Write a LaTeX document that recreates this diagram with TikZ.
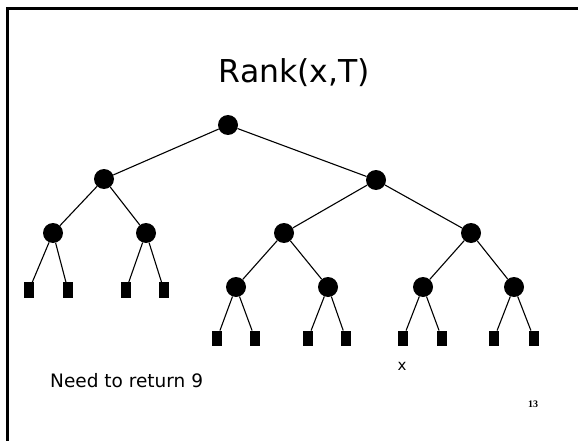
\documentclass[tikz,border=0pt]{standalone}
\usepackage{fontspec}
\setmainfont{DejaVu Sans}
\newfontfamily\numfont{Liberation Serif}
\begin{document}
\begin{tikzpicture}[x=1pt,y=-1pt,
  inode/.style={circle,fill=black,minimum size=20pt,inner sep=0pt},
  leafnode/.style={rectangle,fill=black,minimum width=10pt,minimum height=15.5pt,inner sep=0pt},
  edgeline/.style={line width=1.1pt},
  frameline/.style={line width=2.6pt}]
\useasboundingbox (0,0) rectangle (578,441);
% frame (top and left edges of the slide)
\coordinate (fbl) at (7.5,441);
\coordinate (ftl) at (7.5,8.5);
\coordinate (ftr) at (578,8.5);
\draw[frameline] (fbl) -- (ftl) -- (ftr);
% title
\node[anchor=base,font=\fontsize{31.5}{36}\selectfont,inner sep=0pt] (title) at (294.5,83) {Rank(x,T)};
% internal nodes
\node[inode] (r) at (228,125) {};
\node[inode] (a) at (104,179) {};
\node[inode] (b) at (376,180) {};
\node[inode] (aa) at (53,233) {};
\node[inode] (ab) at (146,233) {};
\node[inode] (ba) at (284,233) {};
\node[inode] (bb) at (471,233) {};
\node[inode] (baa) at (236,287) {};
\node[inode] (bab) at (328,287) {};
\node[inode] (bba) at (423,287) {};
\node[inode] (bbb) at (514,287) {};
% leaves
\node[leafnode] (l1) at (29,290) {};
\node[leafnode] (l2) at (68,290) {};
\node[leafnode] (l3) at (126,290) {};
\node[leafnode] (l4) at (164,290) {};
\node[leafnode] (l5) at (217,338.5) {};
\node[leafnode] (l6) at (255,338.5) {};
\node[leafnode] (l7) at (308,338.5) {};
\node[leafnode] (l8) at (346,338.5) {};
\node[leafnode] (l9) at (403,338.5) {};
\node[leafnode] (l10) at (442,338.5) {};
\node[leafnode] (l11) at (494,338.5) {};
\node[leafnode] (l12) at (534,338.5) {};
% edges
\draw[edgeline] (r) -- (a);
\draw[edgeline] (r) -- (b);
\draw[edgeline] (a) -- (aa);
\draw[edgeline] (a) -- (ab);
\draw[edgeline] (b) -- (ba);
\draw[edgeline] (b) -- (bb);
\draw[edgeline] (aa) -- (l1);
\draw[edgeline] (aa) -- (l2);
\draw[edgeline] (ab) -- (l3);
\draw[edgeline] (ab) -- (l4);
\draw[edgeline] (ba) -- (baa);
\draw[edgeline] (ba) -- (bab);
\draw[edgeline] (bb) -- (bba);
\draw[edgeline] (bb) -- (bbb);
\draw[edgeline] (baa) -- (l5);
\draw[edgeline] (baa) -- (l6);
\draw[edgeline] (bab) -- (l7);
\draw[edgeline] (bab) -- (l8);
\draw[edgeline] (bba) -- (l9);
\draw[edgeline] (bba) -- (l10);
\draw[edgeline] (bbb) -- (l11);
\draw[edgeline] (bbb) -- (l12);
% labels
\node[anchor=base,font=\fontsize{15}{18}\selectfont,inner sep=0pt] (xlabel) at (402,370) {x};
\node[anchor=base west,font=\fontsize{18.5}{22}\selectfont,inner sep=0pt] (need) at (50,387) {Need to return 9};
\node[anchor=base,font=\numfont\bfseries\fontsize{10}{12}\selectfont,inner sep=0pt] (pnum) at (533,407) {13};
\end{tikzpicture}
\end{document}
